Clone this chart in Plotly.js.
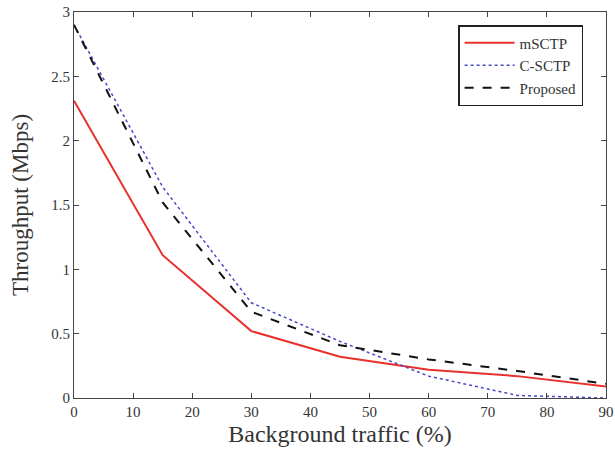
<!DOCTYPE html>
<html><head><meta charset="utf-8">
<script src="https://cdn.plot.ly/plotly-3.0.1.min.js"></script>
<style>html,body{margin:0;padding:0;background:#fff}#chart{width:615px;height:459px}</style>
</head><body><div id="chart"></div>
<script>
const traffic = [0, 15, 30, 45, 60, 75, 90];
const mSCTP = [2.31, 1.11, 0.52, 0.32, 0.22, 0.17, 0.09];
const cSCTP = [2.90, 1.64, 0.74, 0.44, 0.17, 0.02, 0.00];
const proposed = [2.90, 1.52, 0.67, 0.41, 0.30, 0.21, 0.11];
const xTicks = [0, 10, 20, 30, 40, 50, 60, 70, 80, 90];
const yTicks = [0, 0.5, 1, 1.5, 2, 2.5, 3];
const yTickText = ['0', '0.5', '1', '1.5', '2', '2.5', '3'];

const font = {family: 'Liberation Serif, Times New Roman, serif', color: '#333'};
const traces = [
  {x: traffic, y: mSCTP, name: 'mSCTP', mode: 'lines', line: {color: '#e8302c', width: 2}},
  {x: traffic, y: cSCTP, name: 'C-SCTP', mode: 'lines', line: {color: '#4a4ac8', width: 1.5, dash: 'dot'}},
  {x: traffic, y: proposed, name: 'Proposed', mode: 'lines', line: {color: '#111', width: 2, dash: 'dash'}}
];
const axisCommon = {showgrid: false, zeroline: false, showline: true, linecolor: '#444', linewidth: 1,
  mirror: 'ticks', ticks: 'inside', ticklen: 5, tickcolor: '#444', tickfont: {family: font.family, size: 15, color: '#333'}};
const layout = {
  width: 615, height: 459,
  margin: {l: 74, r: 9, t: 12, b: 61},
  paper_bgcolor: '#fff', plot_bgcolor: '#fff',
  font: font,
  showlegend: true,
  xaxis: Object.assign({}, axisCommon, {range: [0, 90], tickvals: xTicks,
    title: {text: 'Background traffic (%)', font: {family: font.family, size: 24, color: '#333'}, standoff: 6}}),
  yaxis: Object.assign({}, axisCommon, {range: [0, 3], tickvals: yTicks, ticktext: yTickText,
    title: {text: 'Throughput (Mbps)', font: {family: font.family, size: 23, color: '#333'}, standoff: 16}}),
  legend: {x: 0.722, xanchor: 'left', y: 0.966, yanchor: 'top', bgcolor: '#fff', bordercolor: '#222', borderwidth: 1.5,
    font: {family: font.family, size: 15, color: '#333'}, tracegroupgap: 0, itemwidth: 50}
};
Plotly.newPlot('chart', traces, layout, {displayModeBar: false, staticPlot: true});
</script></body></html>
